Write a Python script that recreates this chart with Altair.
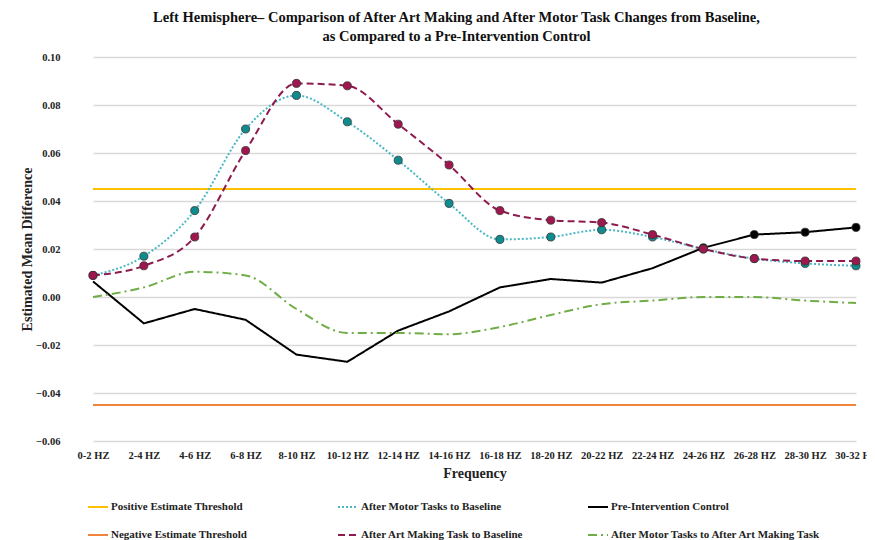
import altair as alt
import pandas as pd

# ---- data ----
freqs = ["0-2 HZ", "2-4 HZ", "4-6 HZ", "6-8 HZ", "8-10 HZ", "10-12 HZ", "12-14 HZ",
         "14-16 HZ", "16-18 HZ", "18-20 HZ", "20-22 HZ", "22-24 HZ", "24-26 HZ",
         "26-28 HZ", "28-30 HZ", "30-32 HZ"]
motor = [0.009, 0.017, 0.036, 0.070, 0.084, 0.073, 0.057, 0.039,
         0.024, 0.025, 0.028, 0.025, 0.020, 0.016, 0.014, 0.013]
art = [0.009, 0.013, 0.025, 0.061, 0.089, 0.088, 0.072, 0.055,
       0.036, 0.032, 0.031, 0.026, 0.020, 0.016, 0.015, 0.015]
control = [0.0065, -0.011, -0.005, -0.0095, -0.024, -0.027, -0.014, -0.006,
           0.004, 0.0075, 0.006, 0.012, 0.0205, 0.026, 0.027, 0.029]
control_marker = [False] * 12 + [True] * 4
motor_vs_art = [0.000, 0.004, 0.0105, 0.009, -0.005, -0.015, -0.015, -0.0155,
                -0.0125, -0.0075, -0.003, -0.0015, 0.000, 0.000, -0.0015, -0.0025]
pos_threshold = 0.045
neg_threshold = -0.045
y_ticks = [-0.06, -0.04, -0.02, 0.0, 0.02, 0.04, 0.06, 0.08, 0.10]

S_POS = "Positive Estimate Threshold"
S_MOT = "After Motor Tasks to Baseline"
S_CTL = "Pre-Intervention Control"
S_NEG = "Negative Estimate Threshold"
S_ART = "After Art Making Task to Baseline"
S_MA = "After Motor Tasks to After Art Making Task"

# legend fills column by column (2 rows x 3 columns)
legend_order = [S_POS, S_NEG, S_MOT, S_ART, S_CTL, S_MA]
colors = ["#FFC000", "#F0843C", "#4BB8C4", "#8E1B4F", "#000000", "#70AD47"]
dashes = [[1, 0], [1, 0], [2, 2], [7, 4], [1, 0], [9, 4, 2, 4]]

rows = []
for i, f in enumerate(freqs):
    rows.append({"series": S_POS, "freq": f, "value": pos_threshold, "marker": False})
    rows.append({"series": S_NEG, "freq": f, "value": neg_threshold, "marker": False})
    rows.append({"series": S_CTL, "freq": f, "value": control[i], "marker": control_marker[i]})
    rows.append({"series": S_MA, "freq": f, "value": motor_vs_art[i], "marker": False})
    rows.append({"series": S_MOT, "freq": f, "value": motor[i], "marker": True})
    rows.append({"series": S_ART, "freq": f, "value": art[i], "marker": True})
df = pd.DataFrame(rows)

FONT = "Liberation Serif"

x_enc = alt.X("freq:N", sort=freqs,
              scale=alt.Scale(type="point", padding=0, range=[25, 788]),
              axis=alt.Axis(title="Frequency", labelAngle=0, labelFont=FONT,
                            labelFontWeight="bold", labelFontSize=10.5, labelColor="#222",
                            titleFont=FONT, titleFontWeight="bold", titleFontSize=14,
                            titleColor="#222", ticks=False, domain=False, grid=False,
                            labelPadding=9, titlePadding=6))
y_enc = alt.Y("value:Q",
              scale=alt.Scale(domain=[-0.06, 0.10], nice=False, zero=False),
              axis=alt.Axis(title="Estimated Mean Difference", values=y_ticks, format=".2f",
                            labelFont=FONT, labelFontWeight="bold", labelFontSize=10.5,
                            labelColor="#222", titleFont=FONT, titleFontWeight="bold",
                            titleFontSize=14, titleColor="#222", ticks=False,
                            domain=False, grid=True, gridColor="#D9D9D9", gridWidth=1.3,
                            labelPadding=8, titlePadding=1))

legend = alt.Legend(title=None, orient="none", legendX=19, legendY=439,
                    columns=3, gridAlign="all", columnPadding=12,
                    rowPadding=12, symbolType="stroke",
                    symbolSize=400, symbolStrokeWidth=2,
                    labelFont=FONT, labelFontWeight="bold",
                    labelFontSize=11, labelColor="#222",
                    labelLimit=400, labelOffset=2)

color_enc = alt.Color("series:N", scale=alt.Scale(domain=legend_order, range=colors),
                      legend=legend)
dash_enc = alt.StrokeDash("series:N", scale=alt.Scale(domain=legend_order, range=dashes),
                          legend=legend)

base = alt.Chart(df)

straight = base.mark_line(strokeWidth=2).encode(
    x=x_enc, y=y_enc, color=color_enc, strokeDash=dash_enc
).transform_filter(alt.FieldOneOfPredicate(field="series", oneOf=[S_POS, S_NEG, S_CTL]))

smooth = base.mark_line(strokeWidth=2, interpolate="monotone").encode(
    x=x_enc, y=y_enc, color=color_enc, strokeDash=dash_enc
).transform_filter(alt.FieldOneOfPredicate(field="series", oneOf=[S_MA, S_MOT, S_ART]))

pts = base.mark_point(filled=True, size=65, stroke="#333", strokeWidth=0.8, opacity=1).encode(
    x=x_enc, y=y_enc,
    fill=alt.Fill("series:N",
                  scale=alt.Scale(domain=[S_MOT, S_ART, S_CTL],
                                  range=["#0F8C8E", "#A0174F", "#000000"]),
                  legend=None)
).transform_filter(alt.datum.marker)

chart = alt.layer(straight, smooth, pts).properties(
    width=799, height=384,
    title=alt.TitleParams(
        text=["Left Hemisphere– Comparison of After Art Making and After Motor Task Changes from Baseline,",
              "as Compared to a Pre-Intervention Control"],
        font=FONT, fontWeight="bold", fontSize=14.5, color="#111", lineHeight=19,
        anchor="middle", dx=-11, offset=8),
    autosize=alt.AutoSizeParams(type="none"),
    padding={"left": 60, "top": 49, "right": 0, "bottom": 99},
).configure_view(stroke=None)

chart.save("out.html", embed_options={"renderer": "svg", "actions": False})
